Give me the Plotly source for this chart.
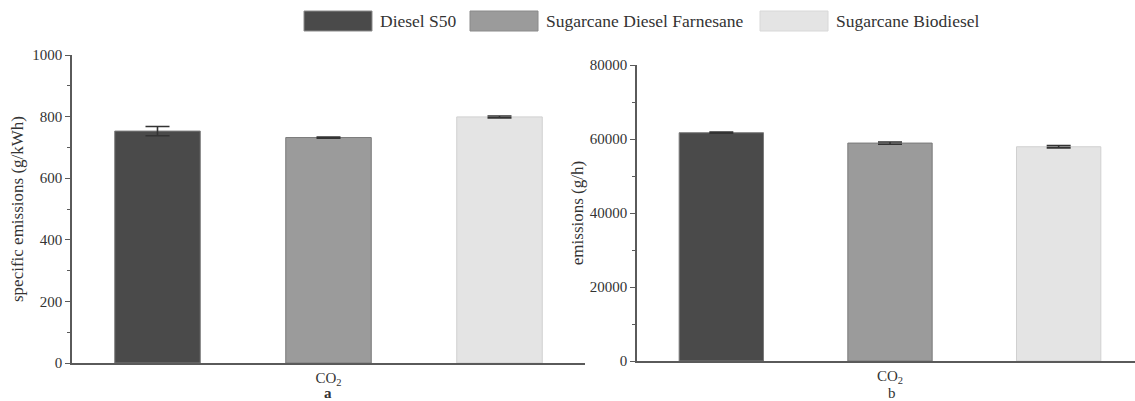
import plotly.graph_objects as go

# ---- data ----
fuels = ["Diesel S50", "Sugarcane Diesel Farnesane", "Sugarcane Biodiesel"]
colors = ["#4a4a4a", "#9b9b9b", "#e4e4e4"]
category = ["CO<sub>2</sub>"]
specific_co2 = [753, 732, 799]          # g/kWh (panel a)
specific_co2_err = [15, 2, 3]
hourly_co2 = [61700, 58900, 57900]      # g/h (panel b)
hourly_co2_err = [150, 300, 300]
panel_labels = ["<b>a</b>", "b"]

W, H = 1135, 401
FONT = "Liberation Serif"
AX = "#5a5a5a"

def px(x):
    return x / W

def py(y):
    return 1 - y / H

fig = go.Figure()
for i, name in enumerate(fuels):
    fig.add_trace(go.Bar(
        x=category, y=[specific_co2[i]], name=name,
        marker=dict(color=colors[i], line=dict(color="#7a7a7a" if i < 2 else "#d0d0d0", width=1)),
        error_y=dict(type="data", array=[specific_co2_err[i]], color="#333333", thickness=1.6, width=12),
        xaxis="x", yaxis="y", showlegend=False, offsetgroup=str(i)))
    fig.add_trace(go.Bar(
        x=category, y=[hourly_co2[i]], name=name,
        marker=dict(color=colors[i], line=dict(color="#7a7a7a" if i < 2 else "#d0d0d0", width=1)),
        error_y=dict(type="data", array=[hourly_co2_err[i]], color="#333333", thickness=1.6, width=12),
        xaxis="x2", yaxis="y2", showlegend=False, offsetgroup=str(i)))

tickfont = dict(family=FONT, size=15, color="#333333")
common_x = dict(type="category", showline=True, linecolor=AX, linewidth=1.5, ticks="",
                tickfont=tickfont, showgrid=False, zeroline=False, automargin=False)
common_y = dict(showline=True, linecolor=AX, linewidth=1.5, ticks="outside", ticklen=5,
                tickcolor=AX, tickwidth=1.2, tickfont=tickfont, showgrid=False, zeroline=False,
                automargin=False, tickformat="d")

fig.update_layout(
    width=W, height=H,
    margin=dict(l=0, r=0, t=0, b=0, autoexpand=False),
    paper_bgcolor="white", plot_bgcolor="white",
    barmode="group", bargap=0.0, bargroupgap=0.5,
    font=dict(family=FONT, color="#333333"),
    xaxis=dict(common_x, domain=[px(72), px(585)], range=[-0.5, 0.5], anchor="y"),
    yaxis=dict(common_y, domain=[py(363), py(55)], range=[0, 1000], dtick=200, anchor="x",
               minor=dict(dtick=100, ticks="outside", ticklen=3, tickcolor=AX),
               title=dict(text="specific emissions (g/kWh)", font=dict(family=FONT, size=17, color="#333333"), standoff=4)),
    xaxis2=dict(common_x, domain=[px(637), 1.0], range=[-0.5, -0.5 + 498 / 506], anchor="y2"),
    yaxis2=dict(common_y, domain=[py(361), py(65)], range=[0, 80000], dtick=20000, anchor="x2",
                minor=dict(dtick=10000, ticks="outside", ticklen=3, tickcolor=AX),
                title=dict(text="emissions (g/h)", font=dict(family=FONT, size=17, color="#333333"), standoff=2)),
)

# panel labels
fig.add_annotation(x=px(328), y=py(393), xref="paper", yref="paper", text=panel_labels[0],
                   xanchor="center", yanchor="middle",
                   showarrow=False, font=dict(family=FONT, size=15, color="#333333"))
fig.add_annotation(x=px(892), y=py(393), xref="paper", yref="paper", text=panel_labels[1],
                   xanchor="center", yanchor="middle",
                   showarrow=False, font=dict(family=FONT, size=15, color="#333333"))

# custom legend (wide swatches)
sw_left = [304, 470, 760]
for i, name in enumerate(fuels):
    fig.add_shape(type="rect", xref="paper", yref="paper",
                  x0=px(sw_left[i]), x1=px(sw_left[i] + 68), y0=py(31), y1=py(11),
                  fillcolor=colors[i], line=dict(color="#8a8a8a" if i < 2 else "#d8d8d8", width=1))
    fig.add_annotation(x=px(sw_left[i] + 74), y=py(21), xref="paper", yref="paper",
                       xanchor="left", yanchor="middle", text=name, showarrow=False,
                       font=dict(family=FONT, size=17.5, color="#333333"))

fig.write_html("out.html")
